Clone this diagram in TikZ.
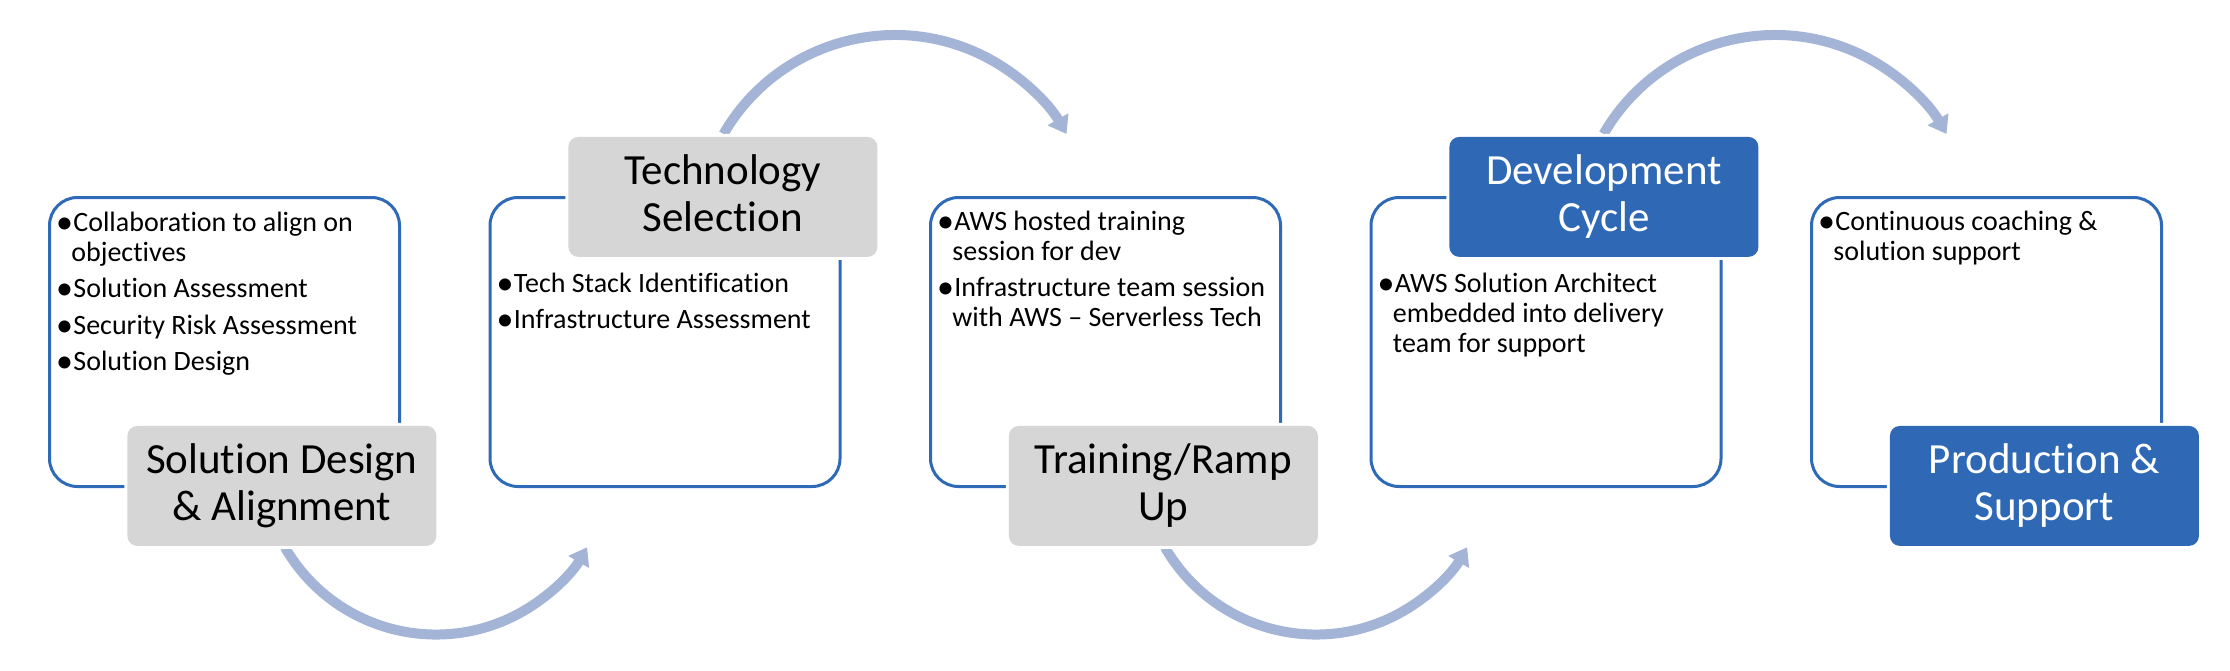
\documentclass[tikz,border=0pt]{standalone}
\usepackage{fontspec}
\setmainfont{Carlito}[Ligatures={NoCommon,NoRare}]
\usetikzlibrary{arrows.meta}
\definecolor{boxblue}{RGB}{47,106,184}
\definecolor{lblblue}{RGB}{47,104,181}
\definecolor{lblgray}{RGB}{214,214,214}
\definecolor{flowcol}{RGB}{164,180,214}
\newcommand{\mybul}{\llap{\raisebox{-1.1pt}{\fontsize{17}{15}\selectfont •}\hspace{0.2pt}}}
\newcommand{\cont}{\hspace*{-1pt}}
\tikzset{
  stagebox/.style={draw=boxblue, line width=1.5pt, fill=white, rounded corners=14pt,
    minimum width=175pt, minimum height=144.5pt, inner sep=0pt, anchor=north west},
  lblbase/.style={rounded corners=5pt, minimum width=154.5pt, minimum height=60pt,
    inner sep=0pt, align=center, font=\fontsize{21.5}{23.5}\selectfont,
    anchor=north west, preaction={draw=white, line width=3pt}},
  graylbl/.style={lblbase, fill=lblgray, text=black},
  bluelbl/.style={lblbase, fill=lblblue, text=white},
  bullets/.style={inner sep=0pt, anchor=base west, font=\fontsize{14}{15}\selectfont},
  flow/.style={draw=flowcol, line width=5pt, -{Triangle[length=8.5pt, width=11.5pt]}},
}
\begin{document}
\begin{tikzpicture}[x=0.5pt, y=-0.5pt]
\useasboundingbox (0,0) rectangle (2230,670);

% stage boxes
\node[stagebox] (b1) at (48,196) {};
\node[stagebox] (b2) at (488.5,196) {};
\node[stagebox] (b3) at (929,196) {};
\node[stagebox] (b4) at (1369.5,196) {};
\node[stagebox] (b5) at (1810,196) {};

% bullet texts
\node[bullets] (t1) at (73,231) {\begin{tabular}[t]{@{}l@{}}
\mybul Collaboration to align on\\
\cont objectives\\[3.25pt]
\mybul Solution Assessment\\[3.25pt]
\mybul Security Risk Assessment\\[3.25pt]
\mybul Solution Design
\end{tabular}};
\node[bullets] (t2) at (513.5,292) {\begin{tabular}[t]{@{}l@{}}
\mybul Tech Stack Identification\\[3.25pt]
\mybul Infrastructure Assessment
\end{tabular}};
\node[bullets] (t3) at (954,230) {\begin{tabular}[t]{@{}l@{}}
\mybul AWS hosted training\\
\cont session for dev\\[3.25pt]
\mybul Infrastructure team session\\
\cont with AWS – Serverless Tech
\end{tabular}};
\node[bullets] (t4) at (1394.5,292) {\begin{tabular}[t]{@{}l@{}}
\mybul AWS Solution Architect\\
\cont embedded into delivery\\
\cont team for support
\end{tabular}};
\node[bullets] (t5) at (1835,230) {\begin{tabular}[t]{@{}l@{}}
\mybul Continuous coaching \&\\
\cont solution support
\end{tabular}};

% flow arrows
\coordinate (ca1) at (436,460);
\coordinate (cb1) at (895,233);
\coordinate (ca2) at (1316,460);
\coordinate (cb2) at (1775,233);
\draw[flow] ([shift={(210:87.25pt)}]ca1) arc[start angle=210, end angle=330, radius=87.25pt];
\draw[flow] ([shift={(150:99pt)}]cb1) arc[start angle=150, end angle=30, radius=99pt];
\draw[flow] ([shift={(210:87.25pt)}]ca2) arc[start angle=210, end angle=330, radius=87.25pt];
\draw[flow] ([shift={(150:99pt)}]cb2) arc[start angle=150, end angle=30, radius=99pt];

% stage labels
\node[graylbl] (l1) at (127,425.5) {Solution Design\\\& Alignment};
\node[graylbl] (l2) at (568,136.5) {Technology\\Selection\vphantom{p}};
\node[graylbl] (l3) at (1008.5,425.5) {Training/Ramp\\Up};
\node[bluelbl] (l4) at (1449,136.5) {Development\\Cycle};
\node[bluelbl] (l5) at (1889.5,425.5) {Production \&\\Support};
\end{tikzpicture}
\end{document}
